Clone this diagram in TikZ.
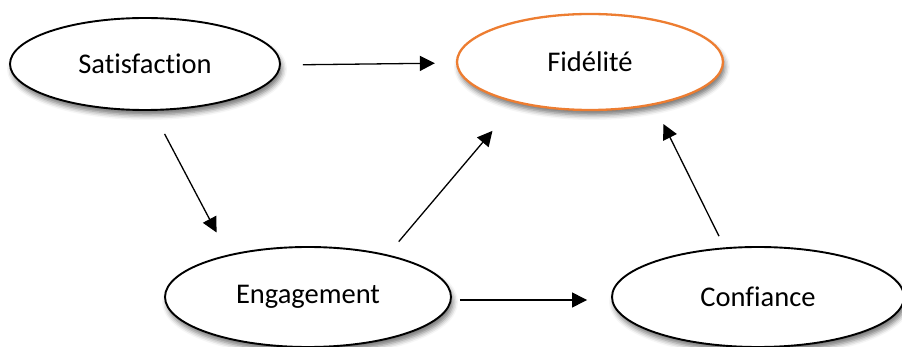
\documentclass[tikz,border=0pt]{standalone}
\usepackage{fontspec}
\setmainfont{Carlito}[Ligatures={NoCommon}]
\usetikzlibrary{shapes.geometric,arrows.meta,shadows.blur}
\definecolor{accent}{HTML}{ED7D31}
\tikzset{
  concept/.style={ellipse, draw=black, line width=1.9pt, fill=white, inner sep=0pt,
    font=\fontsize{28.5}{34}\selectfont,
    blur shadow={shadow xshift=2pt, shadow yshift=-5pt, shadow blur radius=5pt, shadow opacity=55}},
  link/.style={line width=1.3pt, -{Triangle[length=15pt,width=15pt]}}
}
\begin{document}
\begin{tikzpicture}[x=1pt, y=-1pt]
  \useasboundingbox (0,0) rectangle (902,347);
  \clip (0,0) rectangle (902,347);

  \node[concept, minimum width=270pt, minimum height=92pt] (sat) at (145,64) {Satisfaction};
  \node[concept, draw=accent, line width=2.3pt, minimum width=266pt, minimum height=96pt] (fid) at (590,62) {Fidélité};
  \node[concept, minimum width=286pt, minimum height=100pt] (eng) at (308,297) {Engagement};
  \node[concept, minimum width=292pt, minimum height=100pt] (conf) at (758,297) {Confiance};

  \draw[link, shorten <=22pt, shorten >=21pt] ([yshift=-1pt]sat.east) -- ([yshift=-1pt]fid.west);
  \draw[link, shorten <=26pt, shorten >=25pt] (sat.-81) -- (eng.152);
  \draw[link, shorten <=17pt, shorten >=36.5pt] (eng.28) -- (fid.-151);
  \draw[link, shorten <=8pt, shorten >=24pt] ([yshift=-3pt]eng.east) -- ([yshift=-3pt]conf.west);
  \draw[link, shorten <=12.5pt, shorten >=21pt] (conf.124) -- (fid.-34);
\end{tikzpicture}
\end{document}
